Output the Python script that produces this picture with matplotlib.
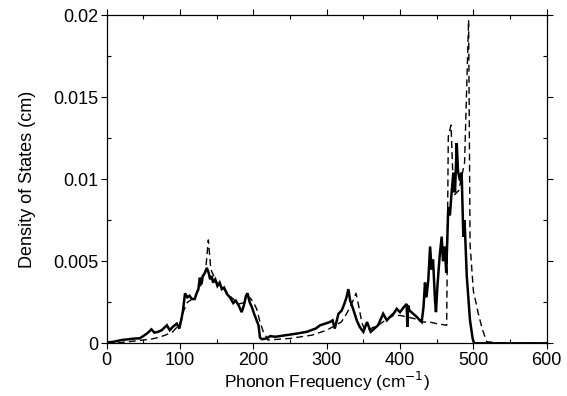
import matplotlib
matplotlib.use("Agg")
import matplotlib.pyplot as plt
from matplotlib.ticker import MultipleLocator

plt.rcParams['font.family'] = ['Liberation Sans', 'DejaVu Sans']

# Solid curve (frequency cm^-1, DOS in units of 1e-3 cm)
solid_x = [0, 10, 20, 30, 40, 45, 50, 55, 61, 65, 70, 75, 82, 86, 90, 95.5, 99, 102, 104, 106.8,
           110, 113, 116, 120, 123, 125, 127, 129, 131, 134, 136.5, 139, 141, 143, 145, 148, 151,
           154, 157, 160, 164, 168, 172.6, 176, 180, 184, 187, 190, 192, 195, 198, 201, 204.5,
           207, 209, 212, 218, 223, 230, 245, 260, 272.7, 285, 291, 298, 304.5, 308, 311, 316,
           320.5, 324, 327, 329.5, 332, 336, 341, 345, 350, 355, 360, 365, 370, 377, 382, 386,
           391, 395.5, 400, 405, 409, 410, 411, 413, 418, 423, 427, 429.5, 432, 434, 436, 438.6,
           441, 443, 445, 447.7, 449, 451, 454, 456.8, 458.6, 461, 463, 465.8, 468, 470, 472.7,
           475, 477.3, 479, 481.8, 484, 486.3, 488, 491, 495.4, 499, 501, 520, 560, 600]
solid_y = [0.05, 0.1, 0.2, 0.25, 0.3, 0.3, 0.45, 0.6, 0.85, 0.65, 0.7, 0.8, 1.1, 0.8, 1.0, 1.2, 0.9, 1.5, 2.0, 3.05,
           2.8, 2.9, 2.7, 2.7, 3.1, 3.3, 4.0, 3.6, 4.1, 4.3, 4.6, 4.3, 3.9, 4.1, 3.7, 3.9, 3.5,
           3.7, 3.3, 3.4, 3.0, 2.8, 2.45, 2.6, 2.3, 1.9, 2.3, 2.9, 3.05, 2.5, 2.2, 1.8, 1.4,
           1.1, 0.35, 0.25, 0.3, 0.44, 0.4, 0.5, 0.6, 0.7, 0.9, 1.1, 1.2, 1.3, 1.4, 0.9, 1.8,
           2.0, 2.4, 2.8, 3.3, 2.6, 2.1, 1.4, 1.0, 0.7, 1.3, 0.7, 0.9, 1.1, 1.8, 1.4, 1.6,
           1.8, 2.1, 1.9, 2.2, 2.4, 1.0, 2.3, 2.0, 1.8, 1.6, 1.4, 1.3, 2.2, 3.7, 2.8, 3.9,
           5.9, 4.5, 5.1, 2.6, 1.9, 3.5, 5.3, 6.5, 5.0, 5.9, 4.3, 8.3, 7.8, 9.0, 10.4,
           9.2, 12.2, 10.5, 9.9, 10.4, 6.5, 7.5, 4.1, 1.4, 0.3, 0.0, 0.0, 0.0, 0.0]

# Dashed curve
dash_x = [0, 20, 40, 50, 60, 70, 80, 90, 100, 105, 110, 120, 130, 135, 138.6, 142, 150, 160, 170,
          180, 190, 195, 200, 204.5, 209, 213.6, 220, 250, 280, 300, 320, 327, 333, 340, 344,
          347.7, 352, 360, 370, 380, 391, 400, 410, 420, 431.7, 440, 450, 463.6, 465.8, 469.5,
          473, 480, 488, 493.5, 495.5, 500, 506.8, 512, 518, 540, 600]
dash_y = [0.0, 0.05, 0.15, 0.2, 0.25, 0.35, 0.5, 0.7, 1.2, 2.0, 2.5, 2.8, 3.7, 4.5, 6.3, 4.5, 3.7, 3.3, 2.8,
          2.4, 2.5, 2.8, 2.5, 2.1, 1.3, 0.7, 0.2, 0.3, 0.5, 0.8, 1.3, 1.8, 2.3, 3.05, 2.2,
          1.3, 0.8, 0.9, 1.1, 1.4, 1.7, 1.7, 1.6, 1.5, 1.3, 1.3, 1.2, 1.1, 12.6, 13.3,
          9.0, 9.3, 11.0, 19.7, 6.0, 3.2, 1.8, 0.9, 0.1, 0.0, 0.0]

x_ticks = [0, 100, 200, 300, 400, 500, 600]
y_ticks = [0, 0.005, 0.01, 0.015, 0.02]
y_tick_labels = ['0', '0.005', '0.01', '0.015', '0.02']

fig = plt.figure(figsize=(5.67, 3.96), dpi=100)
ax = fig.add_axes([0.1882, 0.133, 0.7760, 0.829])

ax.plot(solid_x, [v * 1e-3 for v in solid_y], color='black', lw=1.8, solid_joinstyle='miter')
ax.plot(dash_x, [v * 1e-3 for v in dash_y], color='black', lw=1.0, dashes=(5, 3))

ax.set_xlim(0, 600)
ax.set_ylim(0, 0.02)
ax.set_xticks(x_ticks)
ax.set_yticks(y_ticks)
ax.set_yticklabels(y_tick_labels)
ax.xaxis.set_minor_locator(MultipleLocator(50))
ax.yaxis.set_minor_locator(MultipleLocator(0.0025))
ax.tick_params(which='major', direction='out', length=4, width=0.8, labelsize=13,
               top=True, right=True, pad=2)
ax.tick_params(which='minor', direction='in', length=3, width=0.8, top=True, right=True)
for s in ax.spines.values():
    s.set_linewidth(0.9)

ax.set_xlabel('Phonon Frequency (cm$^{-1}$)', fontsize=12.5, labelpad=1)
ax.set_ylabel('Density of States (cm)', fontsize=13, labelpad=12)

fig.savefig('out.png', dpi=100)
